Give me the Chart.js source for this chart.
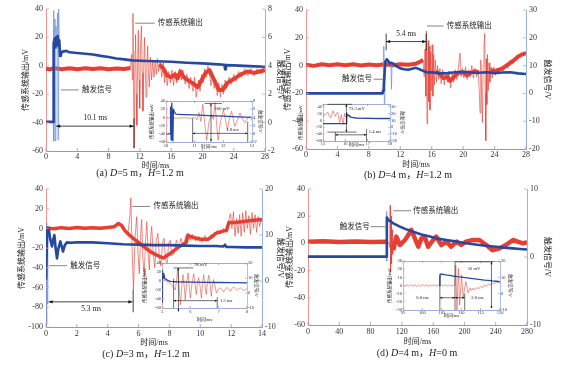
<!DOCTYPE html>
<html lang="zh">
<head>
<meta charset="utf-8">
<title>触发信号与传感系统输出</title>
<script src="https://cdn.jsdelivr.net/npm/chart.js@4.4.1/dist/chart.umd.min.js"></script>
<style>
  html, body { margin: 0; padding: 0; background: #fff; }
  #fig { position: relative; width: 564px; height: 367px; overflow: hidden; background: #fff; }
  #fig canvas { position: absolute; }
  .cap { position: absolute; font: 10px 'Liberation Serif', 'Noto Sans CJK SC', serif; color: #222;
         white-space: nowrap; line-height: 10px; transform: translateX(-50%); }
</style>
</head>
<body>
<div id="fig">
  <canvas id="pa"></canvas>
  <canvas id="pb"></canvas>
  <canvas id="pc"></canvas>
  <canvas id="pd"></canvas>
  <canvas id="ia"></canvas>
  <canvas id="ib"></canvas>
  <canvas id="ic"></canvas>
  <canvas id="idd"></canvas>
  <div class="cap" style="left:140px;top:168px">(a) <i>D</i>=5 m，<i>H</i>=1.2 m</div>
  <div class="cap" style="left:408px;top:170px">(b) <i>D</i>=4 m，<i>H</i>=1.2 m</div>
  <div class="cap" style="left:146px;top:349px">(c) <i>D</i>=3 m，<i>H</i>=1.2 m</div>
  <div class="cap" style="left:417px;top:348px">(d) <i>D</i>=4 m，<i>H</i>=0 m</div>
</div>
<script>
// ---- (a) D=5 m, H=1.2 m ----
const aTicksT = [0, 4, 8, 12, 16, 20, 24, 28];
const aTicksOut = [-60, -40, -20, 0, 20, 40];
const aTicksTrig = [-2, 0, 2, 4, 6, 8];
const aTrig = [[0,0.05],[0.9,0.05],[0.95,2],[1.0,5.6],[1.1,5.9],[1.2,5.3],[1.3,6],[1.4,5.5],[1.5,6.1],[1.6,5.4],[1.7,5.8],[1.8,4.7],[1.9,4.8],[2.1,5.0],[2.6,5.05],[3,4.95],[4,4.9],[5,4.85],[6,4.8],[7,4.7],[8,4.62],[9,4.52],[10,4.45],[11,4.38],[12,4.36],[13,4.34],[14,4.32],[16,4.28],[18,4.22],[20,4.17],[22,4.1],[22.8,4.07],[22.9,3.75],[23.0,4.05],[24,4.03],[26,3.98],[28,3.93]];
const aTrigSpike = [[0.93,0.05],[0.97,7.9],[1.01,-1.3],[1.06,6.5],[1.14,7.3],[1.19,-1.3],[1.27,6.8],[1.36,5.2],[1.48,7.7],[1.54,-1.2],[1.62,8],[1.7,5.2]];
const aOutBand = [[0,-2],[0.5,-2.6],[1,-1.6],[2,-2.4],[3,-1.8],[4,-2.5],[5,-1.7],[6,-2.3],[7,-1.8],[8,-2.4],[9,-1.9],[10,-2.2],[10.8,-1.5],[10.9,null],[14.4,null],[14.5,1],[15,-2],[15.5,-7],[16,-8],[16.5,-6],[16.8,-9],[17.2,-4],[17.6,-8],[18.1,-10],[18.7,-12],[19.4,-15],[19.8,-11],[20.4,-5],[20.9,-3],[21.5,-10],[22.1,-17],[22.6,-17],[23.2,-12],[24.1,-9],[24.9,-6],[25.8,-4],[26.6,-5],[27.3,-4],[28,-3]];
const aOutOsc = [[10.8,-1],[10.95,8],[11.05,-10],[11.12,37],[11.2,-25],[11.28,-58],[11.38,10],[11.45,22],[11.55,-20],[11.62,-42],[11.72,5],[11.8,25],[11.9,-10],[11.98,-30],[12.08,12],[12.2,28],[12.3,-5],[12.4,-32],[12.5,0],[12.6,20],[12.7,-5],[12.8,-22],[12.9,2],[13.0,14],[13.1,-5],[13.2,-15],[13.35,6],[13.5,-10],[13.65,4],[13.8,-8],[13.95,3],[14.1,-6],[14.25,5],[14.4,-4],[14.6,3],[14.8,-8],[15.0,2],[15.15,-12],[15.3,-2],[15.5,-14],[15.7,-4],[15.9,-12],[16.1,-3],[16.3,-14],[16.5,-4],[16.7,-12],[16.9,-5],[17.1,-2],[17.3,-10],[17.5,-3],[17.8,-13],[18.0,-6],[18.3,-16],[18.5,-8],[18.8,-18],[19.0,-8],[19.2,-22],[19.5,-10],[19.7,-18],[19.9,-6],[20.1,-12],[20.3,-2],[20.5,-8],[20.7,0],[20.9,-6],[21.1,-14],[21.3,-6],[21.5,-16],[21.7,-10],[21.9,-21],[22.1,-12],[22.3,-22],[22.5,-13],[22.7,-20],[22.9,-10],[23.1,-16],[23.4,-8],[23.7,-13],[24,-6],[24.3,-11],[24.6,-4],[25,-8],[25.4,-2],[25.8,-7],[26.2,-2],[26.6,-7],[27,-2],[27.5,-6],[28,-3]];
const aInTicksT = [10, 11, 12, 13];
const aInTicksOut = [-60, -40, -20, 0, 20, 40];
const aInTicksTrig = [-2, 0, 2, 4, 6, 8];
const aInTrig = [[10,0],[10.14,0],[10.16,6.5],[10.18,-1.5],[10.2,7.5],[10.22,5],[10.24,-1.7],[10.26,6],[10.3,5.2],[10.35,4.8],[10.6,4.7],[11,4.6],[11.5,4.45],[12,4.3],[12.5,4.15],[13,4.0]];
const aInOut = [[10,-1],[10.3,-2],[10.6,-1],[10.9,-2],[11.0,0],[11.08,-6],[11.15,12],[11.22,-10],[11.28,32],[11.36,-20],[11.42,-56],[11.5,-10],[11.59,7],[11.65,-5],[11.71,36],[11.77,-20],[11.82,-56],[11.9,-10],[12.0,19],[12.07,-5],[12.14,-31],[12.22,0],[12.29,15],[12.35,-5],[12.4,-22],[12.5,-5],[12.58,11],[12.66,-3],[12.75,-13],[12.85,-2],[12.93,2],[13,-8]];

// ---- (b) D=4 m, H=1.2 m ----
const bTicksT = [0, 4, 8, 12, 16, 20, 24, 28];
const bTicksOut = [-60, -40, -20, 0, 20, 40];
const bTicksTrig = [-20, -10, 0, 10, 20, 30];
const bTrig = [[0,0],[9.75,0],[9.8,1],[9.9,3],[10.1,11.5],[10.3,12.3],[10.5,11.5],[10.7,10.8],[10.9,11],[11.2,10.5],[11.6,9.6],[12,9],[12.5,8.7],[13,8.5],[13.5,8.9],[14,9.2],[14.5,8.6],[15,8],[15.5,7.5],[16,7.6],[17,7.2],[18,7.3],[19,7.6],[20,7.8],[21,7.5],[22,7.4],[23,7.6],[24,7.3],[25,7.5],[26,7.6],[27,7.2],[28,7]];
const bTrigSpike = [[9.8,0],[9.9,17],[10.0,-12.5],[10.08,11.5],[10.8,11],[10.88,1.5],[10.95,11]];
const bOutBand = [[0,0.6],[1,-0.2],[2,1.0],[3,0.2],[4,0.9],[5,0.3],[6,1.0],[7,0.1],[8,0.8],[9,0.3],[10,1.0],[11,0.3],[12,1.0],[13,0.6],[14,1.4],[14.5,2.8],[14.9,4],[15.0,null],[16.4,null],[16.5,-4],[17,-6],[17.5,-9],[18,-8],[18.3,-11],[18.7,-9],[19,-7],[19.5,-5],[20,-5],[20.5,-7],[21,-5],[21.5,-4],[22,-5],[22.3,null],[23.4,null],[23.5,-3],[24,-4],[24.5,-3],[25,-2],[25.5,0],[26,2],[26.5,4],[27,6.5],[27.5,8],[28,9]];
const bOutOsc = [[14.9,3],[15.05,-8],[15.15,12],[15.25,-22],[15.32,25],[15.4,-42],[15.48,8],[15.55,18],[15.62,-26],[15.7,14],[15.78,-32],[15.86,10],[15.95,-18],[16.05,15],[16.15,-22],[16.25,8],[16.35,-14],[16.45,4],[16.6,-12],[16.75,0],[16.9,-10],[17.05,-2],[17.2,-13],[17.4,-3],[17.6,-14],[17.8,-5],[18.0,-12],[18.2,-4],[18.4,-16],[18.6,-6],[18.8,-12],[19.0,-3],[19.2,-10],[19.4,-1],[19.6,9],[19.75,-8],[19.9,-2],[20.1,-9],[20.3,-1],[20.5,-10],[20.7,-3],[20.9,-8],[21.1,0],[21.3,-9],[21.5,-2],[21.7,-8],[21.9,-3],[22.05,-18],[22.15,-34],[22.25,4],[22.35,-20],[22.45,-41],[22.55,0],[22.65,14],[22.75,23],[22.82,-20],[22.88,-54],[22.95,5],[23.02,-28],[23.1,8],[23.2,-18],[23.3,2],[23.4,-12],[23.55,-1],[23.7,-9],[23.9,-1],[24.1,-7],[24.3,-2],[24.5,-6],[24.8,-1],[25.1,-4],[25.4,1],[25.7,-2],[26,4],[26.3,1],[26.6,6],[27,5],[27.4,9],[27.7,7],[28,10]];
const bInTicksT = [15, 16, 17, 18];
const bInTicksOut = [-60, -40, -20, 0, 20, 40];
const bInTicksTrig = [-20, -10, 0, 10, 20, 30];
const bInTrig = [[15,5.5],[16.03,5.5],[16.06,21],[16.1,17],[16.15,18],[16.25,15],[16.5,13.5],[17,13],[17.5,12.8],[18,12.8]];
const bInOut = [[15,15],[15.07,15],[15.15,20],[15.22,24],[15.28,12],[15.35,7],[15.4,20],[15.45,28],[15.5,18],[15.55,12],[15.6,20],[15.65,24],[15.7,8],[15.75,-6],[15.82,17],[15.9,-11],[15.97,21],[16.02,10],[16.05,7],[16.1,12],[16.2,9],[16.4,8],[16.6,7.5],[16.8,6.5],[17,7],[17.3,6.5],[17.6,7.2],[18,7]];

// ---- (c) D=3 m, H=1.2 m ----
const cTicksT = [0, 2, 4, 6, 8, 10, 12, 14];
const cTicksOut = [-100, -80, -60, -40, -20, 0, 20, 40];
const cTicksTrig = [-10, 0, 10, 20];
const cTrig = [[0,0.3],[0.03,0.3],[0.08,11.5],[0.17,11.5],[0.28,9],[0.39,7.5],[0.47,9],[0.54,10],[0.63,7],[0.71,4.9],[0.8,7],[0.93,8.6],[1.02,7.5],[1.1,6.4],[1.22,7.8],[1.36,8.4],[1.6,8.3],[2,8.4],[3,8.4],[4,8.2],[5,8.0],[6,7.9],[7,7.8],[8,7.8],[9,7.7],[10,7.6],[11,7.6],[11.5,7.5],[11.6,7.9],[11.7,7.4],[12,7.4],[13,7.3],[14,7.3]];
const cTrigSpike = [[0.02,0.3],[0.04,-9.5],[0.06,12.6],[0.09,-5],[0.12,11.5]];
const cOutBand = [[0,0.5],[0.5,-0.4],[1,0.8],[1.5,0],[2,0.9],[2.5,0.1],[3,0.8],[3.5,0.2],[4,1],[4.4,1.6],[4.7,5],[4.9,3],[5.1,-2],[5.35,-6],[5.8,-12],[6.3,-18],[6.8,-24],[7.3,-28],[7.6,-30],[8,-26],[8.5,-20],[9.1,-14],[9.2,-7],[9.5,-9],[10,-11],[10.5,-11],[10.8,-8],[11,-5],[11.4,-3],[11.7,-2],[11.85,6],[12.3,6],[12.8,7],[13.3,8],[14,9]];
const cOutOsc = [[5.3,-6],[5.42,10],[5.5,31],[5.58,-20],[5.67,-62],[5.77,-10],[5.88,12],[5.96,-25],[6.05,-46],[6.12,-10],[6.2,9],[6.28,-30],[6.36,-49],[6.45,-15],[6.53,7],[6.62,-25],[6.7,-42],[6.78,-10],[6.85,2],[6.95,-25],[7.05,-40],[7.15,-12],[7.25,-5],[7.35,-30],[7.45,-38],[7.55,-15],[7.65,-10],[7.75,-32],[7.85,-35],[7.95,-15],[8.05,-12],[8.15,-28],[8.3,-26],[8.45,-12],[8.6,-20],[8.75,-10],[8.9,-18],[9.05,-8],[9.2,-5],[9.35,-12],[9.5,-6],[9.7,-13],[9.9,-8],[10.1,-14],[10.3,-7],[10.5,-13],[10.7,-6],[10.9,-8],[11.1,-2],[11.3,-6],[11.5,0],[11.7,-4],[11.85,8],[11.95,15],[12.05,0],[12.15,17],[12.25,-8],[12.35,10],[12.45,-5],[12.55,14],[12.65,-8],[12.75,16],[12.85,-4],[12.95,18],[13.05,0],[13.15,13],[13.25,-6],[13.35,16],[13.45,0],[13.55,14],[13.65,-4],[13.75,12],[13.85,2],[13.95,10],[14,6]];
const cInTicksT = [5, 6, 7, 8];
const cInTicksOut = [-60, -40, -20, 0, 20, 40];
const cInTicksTrig = [-10, 0, 10, 20];
const cInTrig = [[5,12],[5.01,-6],[5.02,15],[5.04,10],[5.06,13],[5.1,9.6],[5.2,8.4],[5.3,7.8],[5.5,7.5],[6,7.3],[6.5,7.1],[7,7],[7.5,6.9],[8,6.8]];
const cInOut = [[5,3],[5.1,1],[5.18,-2],[5.28,-4],[5.35,-10],[5.41,-15],[5.47,-20],[5.52,5],[5.55,29],[5.6,-10],[5.65,-53],[5.7,-10],[5.74,14],[5.78,-10],[5.82,-42],[5.87,-5],[5.92,18],[5.96,-10],[6.0,-38],[6.06,-5],[6.12,16],[6.16,-5],[6.21,-30],[6.25,-5],[6.29,7],[6.34,-10],[6.39,-38],[6.43,-5],[6.47,14],[6.52,-10],[6.56,-30],[6.6,-5],[6.65,13],[6.7,-10],[6.74,-34],[6.78,-10],[6.82,3],[6.87,-10],[6.92,-27],[7.0,-18],[7.06,-15],[7.12,-20],[7.18,-24],[7.24,-18],[7.29,-14],[7.35,-18],[7.41,-23],[7.47,-17],[7.53,-13],[7.59,-17],[7.65,-21],[7.7,-18],[7.76,-15],[7.82,-18],[7.88,-21],[7.94,-19],[8,-17]];

// ---- (d) D=4 m, H=0 m ----
const dTicksT = [0, 40, 80, 120, 160, 200, 240, 280];
const dTicksOut = [-60, -40, -20, 0, 20, 40];
const dTicksTrig = [-10, 0, 10];
const dTrig = [[0,0.05],[100,0.05],[100.6,3],[101,5.8],[102,5.6],[103,5.4],[105,5.3],[109,4.95],[117.5,4.46],[125,4.1],[134.5,3.7],[145,3.3],[156,3],[166,2.7],[177,2.5],[188,2.3],[198,2.1],[209,1.9],[219,1.76],[230,1.62],[240.6,1.5],[251,1.38],[262,1.27],[271,1.18],[280,1.1]];
const dTrigSpike = [[100.2,0.05],[100.5,6.7],[100.8,-0.6],[101.2,6]];
const dOutBand = [[0,1.2],[20,1.5],[40,1],[60,1.4],[80,1.1],[100,1.3],[102,null],[108,null],[109,-5],[113,5],[117.5,-1.2],[124,2.5],[128,6],[132,10],[136.6,3.7],[141,-2.4],[145,3.7],[149,5],[153.6,-2.4],[160,2.5],[164,5],[170.5,-1.2],[177,1.3],[183,-2.4],[190,1.3],[196,-1.2],[202,1.3],[211,2.5],[219,2.5],[228,-1.2],[236,-5],[245,-3.6],[253,-1.2],[262,2.5],[268,1.3],[275,0],[280,1]];
const dOutOsc = [[100.5,1],[103,1],[104.5,-3],[105,28],[105.6,-21],[106.2,20],[106.8,-15],[107.5,10],[108.2,-8],[109,-5]];
const dInTicksT = [95, 100, 105, 110, 115, 120];
const dInTicksOut = [-30, -20, -10, 0, 10, 20, 30];
const dInTicksTrig = [-10, 0, 10, 20];
const dInTrig = [[104.5,4.9],[104.55,12],[105,11.9],[106,11.5],[107,11.2],[108,10.8],[109,10.4],[110,10.1],[111,9.8],[112,9.5],[113,9.2],[114,8.9],[115,8.6],[116,8.3],[117,8.1],[118,7.8],[119,7.6],[120,7.4]];
const dInOut = [[95,0.8],[95.5,-1.1],[96,0.6],[96.5,-0.8],[97,1.2],[97.5,-0.7],[98,0.9],[98.5,-1.2],[99,0.5],[99.5,-0.9],[100,1.1],[100.5,-0.6],[101,0.8],[101.5,-1],[102,0.7],[102.5,-0.8],[103,1.2],[103.5,-0.9],[104,0.6],[104.5,-1.1],[105,0.9],[105.5,-0.7],[106,1],[106.5,-0.9],[107,0.7],[107.5,-1],[108,0.8],[108.4,0],[108.6,25],[108.9,-30],[109.3,21],[109.6,-24],[110.1,13],[110.5,-15],[111.2,5],[111.8,-9],[112.3,-3],[112.7,-6],[113.1,-3],[113.5,-5.5],[114,-2.5],[114.5,-4],[115,-1],[115.5,-3],[116,0.5],[116.5,-1],[117,2],[117.5,0.8],[118,3],[118.5,2],[119,4],[119.5,3],[120,5]];

// Annotations (time, mV)
const aNotes = [
    {k:'lead', p:[[11.4,30],[13.9,30]]}, {k:'text', p:[14.3,30], s:'传感系统输出'},
    {k:'lead', p:[[1.9,-17],[4.2,-17]]}, {k:'text', p:[4.6,-17], s:'触发信号'},
    {k:'arrow', p:[[1.3,-42.5],[11.2,-42.5]]}, {k:'line', p:[[11.25,-37],[11.25,-58]]},
    {k:'text', p:[6.3,-36.5], s:'10.1 ms', a:'center'}
];
const bNotes = [
    {k:'lead', p:[[15.4,28.5],[17.5,28.5]]}, {k:'text', p:[17.9,28.5], s:'传感系统输出'},
    {k:'lead', p:[[8.6,-9.8],[9.9,-9.8]]}, {k:'text', p:[8.4,-9.8], s:'触发信号', a:'right'},
    {k:'arrow', p:[[10.2,17.3],[15.3,17.3]]}, {k:'line', p:[[10.2,23],[10.2,11]]}, {k:'line', p:[[15.3,23],[15.3,11]]},
    {k:'text', p:[12.75,22.5], s:'5.4 ms', a:'center'}
];
const cNotes = [
    {k:'lead', p:[[5.6,22.3],[6.75,22.3]]}, {k:'text', p:[6.96,22.3], s:'传感系统输出'},
    {k:'lead', p:[[0.2,-37.8],[1.36,-37.8]]}, {k:'text', p:[1.57,-37.8], s:'触发信号'},
    {k:'arrow', p:[[0.17,-74.5],[5.6,-74.5]]}, {k:'line', p:[[5.65,-62],[5.65,-85]]},
    {k:'text', p:[2.93,-81.5], s:'5.3 ms', a:'center'}
];
const dNotes = [
    {k:'lead', p:[[109,24],[132,24]]}, {k:'text', p:[134.5,24], s:'传感系统输出'},
    {k:'lead', p:[[80,12.3],[98.5,12.3]]}, {k:'text', p:[79,12.3], s:'触发信号', a:'right'}
];
const aInNotes = [
    {k:'line', p:[[11.35,34],[11.95,34]]}, {k:'arrow', p:[[11.57,34],[11.57,-59]]}, {k:'text', p:[11.7,20], s:'100 mV'},
    {k:'line', p:[[10.93,-2],[10.93,-60]]}, {k:'line', p:[[12.85,-10],[12.85,-60]]},
    {k:'arrow', p:[[10.93,-39],[12.85,-39]]}, {k:'text', p:[12.1,-29], s:'1.8 ms'}
];
const bInNotes = [
    {k:'line', p:[[15.2,47],[16.3,47]]}, {k:'line', p:[[15.2,-34],[16.5,-34]]}, {k:'arrow', p:[[16.05,47],[16.05,-34]]},
    {k:'text', p:[16.15,34], s:'73.3 mV'},
    {k:'arrow', p:[[15.55,-42],[16.95,-42]]}, {k:'line', p:[[16.95,-25],[16.95,-60]]}, {k:'line', p:[[15.55,-34],[15.55,-60]]},
    {k:'text', p:[17.05,-32], s:'1.4 ms'}
];
const cInNotes = [
    {k:'line', p:[[5.41,29],[6.1,29]]}, {k:'arrow', p:[[5.58,29],[5.58,-68]]}, {k:'text', p:[6.15,36], s:'96 mV'},
    {k:'line', p:[[5.41,5],[5.41,-60]]}, {k:'line', p:[[6.95,-36],[6.95,-60]]},
    {k:'arrow', p:[[5.41,-43.7],[6.95,-43.7]]}, {k:'text', p:[7.05,-43.7], s:'1.5 ms'}
];
const dInNotes = [
    {k:'line', p:[[108.4,29],[118.3,29]]}, {k:'arrow', p:[[117.8,29],[117.8,-28]]}, {k:'text', p:[113.3,20], s:'56 mV', a:'center'},
    {k:'line', p:[[104.5,12],[104.5,-30]]}, {k:'line', p:[[108.4,29],[108.4,-30]]}, {k:'line', p:[[110.9,-10],[110.9,-30]]},
    {k:'arrow', p:[[104.5,-15],[108.4,-15]]}, {k:'arrow', p:[[108.4,-15],[110.9,-15]]},
    {k:'text', p:[100,-15], s:'6.0 ms', a:'center'}, {k:'text', p:[112.6,-15], s:'2.0 ms'}
];

// Colors
const FAM = "'Liberation Serif', 'Noto Sans CJK SC', serif";
const RED = 'rgb(230,62,50)';
const RED_THIN = 'rgba(228,66,56,0.8)';
const BLUE = 'rgb(38,72,160)';
const BLUE_THIN = 'rgba(105,145,215,0.9)';
const AXIS_L = 'rgb(240,150,150)';
const AXIS_R = 'rgb(150,180,228)';
const AXIS_X = 'rgb(135,155,200)';

function pts(a) { return a.map(p => ({ x: p[0], y: p[1] })); }

function series(data, axis, color, width, join) {
    return { data: pts(data), yAxisID: axis, borderColor: color, borderWidth: width,
             pointRadius: 0, tension: 0, fill: false, spanGaps: false, borderJoinStyle: join || 'bevel' };
}

function head(ctx, x, y, fx, fy, s) {
    const ang = Math.atan2(y - fy, x - fx);
    const c = Math.cos(ang), n = Math.sin(ang);
    ctx.beginPath();
    ctx.moveTo(x, y);
    ctx.lineTo(x - s * c + s * 0.4 * n, y - s * n - s * 0.4 * c);
    ctx.lineTo(x - s * c - s * 0.4 * n, y - s * n + s * 0.4 * c);
    ctx.closePath();
    ctx.fill();
}

// white plot area for insets, inward tick marks
const boxPlugin = {
    id: 'box',
    beforeDraw(chart, args, o) {
        if (!o.white) return;
        const a = chart.chartArea, ctx = chart.ctx;
        ctx.save();
        ctx.fillStyle = '#fff';
        ctx.fillRect(a.left, a.top, a.right - a.left, a.bottom - a.top);
        ctx.restore();
    },
    afterDatasetsDraw(chart, args, o) {
        const { ctx, chartArea: a, scales } = chart;
        const n = o.len;
        ctx.save();
        ctx.lineWidth = 0.8;
        const mark = (id, color, fn) => {
            ctx.strokeStyle = color;
            ctx.beginPath();
            scales[id].ticks.forEach(t => fn(scales[id].getPixelForValue(t.value)));
            ctx.stroke();
        };
        mark('x', AXIS_X, p => {
            ctx.moveTo(p, a.bottom); ctx.lineTo(p, a.bottom - n);
            if (o.top) { ctx.moveTo(p, a.top); ctx.lineTo(p, a.top + n); }
        });
        mark('yL', AXIS_L, p => { ctx.moveTo(a.left, p); ctx.lineTo(a.left + n, p); });
        mark('yR', AXIS_R, p => { ctx.moveTo(a.right, p); ctx.lineTo(a.right - n, p); });
        if (o.top) {
            ctx.strokeStyle = AXIS_X;
            ctx.beginPath(); ctx.moveTo(a.left, a.top + 0.5); ctx.lineTo(a.right, a.top + 0.5); ctx.stroke();
        }
        ctx.restore();
    }
};

// leader lines, dimension arrows and labels
const notePlugin = {
    id: 'notes',
    afterDatasetsDraw(chart, args, o) {
        const { ctx, scales } = chart;
        const X = v => scales.x.getPixelForValue(v);
        const Y = v => scales.yL.getPixelForValue(v);
        ctx.save();
        ctx.lineWidth = o.lw;
        (o.items || []).forEach(it => {
            if (it.k === 'text') {
                ctx.fillStyle = '#222';
                ctx.font = o.fs + 'px ' + FAM;
                ctx.textAlign = it.a || 'left';
                ctx.textBaseline = 'middle';
                ctx.fillText(it.s, X(it.p[0]), Y(it.p[1]));
                return;
            }
            const [p, q] = it.p;
            const x1 = X(p[0]), y1 = Y(p[1]), x2 = X(q[0]), y2 = Y(q[1]);
            ctx.strokeStyle = it.k === 'lead' ? '#666' : '#111';
            ctx.beginPath(); ctx.moveTo(x1, y1); ctx.lineTo(x2, y2); ctx.stroke();
            if (it.k === 'arrow') {
                ctx.fillStyle = '#111';
                head(ctx, x2, y2, x1, y1, o.hs);
                head(ctx, x1, y1, x2, y2, o.hs);
            }
        });
        ctx.restore();
    }
};

// g: canvas box + plot rect (canvas coords) + font sizes, d: data
function plot(id, g, d) {
    const cv = document.getElementById(id);
    cv.width = g.w; cv.height = g.h;
    cv.style.left = g.x + 'px'; cv.style.top = g.y + 'px';
    const tf = { size: g.fs, family: FAM };
    const hf = { size: g.ts, family: FAM };
    const fixed = vals => s => { s.ticks = vals.map(v => ({ value: v })); };
    const yAxis = (pos, range, vals, label, color, width, tp) => ({
        type: 'linear', position: pos, min: range[0], max: range[1],
        afterBuildTicks: fixed(vals),
        afterFit: s => { s.width = width; },
        grid: { display: false, drawTicks: false },
        border: { color: color, width: g.bw },
        ticks: { font: tf, color: '#333', padding: g.yp, autoSkip: false },
        title: { display: true, text: label, font: hf, color: '#222', padding: { top: tp, bottom: 0 } }
    });
    const sets = [
        series(d.trig, 'yR', BLUE, g.bwBlue, 'round'),
        series(d.spike || [], 'yR', BLUE_THIN, g.thin),
        series(d.band || [], 'yL', RED, g.bwBand, 'round'),
        series(d.osc, 'yL', RED_THIN, g.thin)
    ];
    new Chart(cv, {
        type: 'line',
        data: { datasets: sets },
        options: {
            responsive: false, animation: false, devicePixelRatio: 1,
            layout: { padding: { left: g.L, right: g.R, top: g.t, bottom: g.h - g.b - g.xh } },
            plugins: {
                legend: { display: false }, tooltip: { enabled: false },
                box: { white: g.white, top: g.white, len: g.tick },
                notes: { items: d.notes, fs: g.nf, lw: g.nlw, hs: g.hs }
            },
            scales: {
                x: {
                    type: 'linear', min: d.xr[0], max: d.xr[1],
                    afterBuildTicks: fixed(d.xt),
                    afterFit: s => { s.height = g.xh; },
                    grid: { display: false, drawTicks: false },
                    border: { color: AXIS_X, width: g.bw },
                    ticks: { font: tf, color: '#333', padding: g.xp, autoSkip: false, maxRotation: 0 },
                    title: { display: true, text: '时间/ms', font: hf, color: '#222', padding: { top: 0, bottom: 0 } }
                },
                yL: yAxis('left', d.yl, d.ylt, '传感系统输出/mV', AXIS_L, g.l - g.L, g.tpL),
                yR: yAxis('right', d.yr, d.yrt, '触发信号/V', AXIS_R, g.w - g.R - g.r, g.tpR)
            }
        },
        plugins: [boxPlugin, notePlugin]
    });
}

const mainStyle = { fs: 8, ts: 8, nf: 7.5, nlw: 0.8, hs: 4, bw: 1, thin: 0.8, bwBlue: 2.6, tick: 3, yp: 3, white: false };
const insetStyle = { fs: 4.5, ts: 4.5, nf: 4.6, nlw: 0.6, hs: 2.4, bw: 0.8, thin: 0.7, bwBlue: 1.3, bwBand: 1, tick: 2, yp: 1, white: true };

plot('pa', Object.assign({}, mainStyle, { x: 0, y: 0, w: 295, h: 183, l: 46, r: 265, t: 9, b: 151, L: 17, R: 6, tpL: 4, tpR: 4, xh: 20, xp: 1, bwBand: 4 }),
    { trig: aTrig, spike: aTrigSpike, band: aOutBand, osc: aOutOsc, notes: aNotes,
      xr: [0, 28], xt: aTicksT, yl: [-60, 40], ylt: aTicksOut, yr: [-2, 8], yrt: aTicksTrig });
plot('pb', Object.assign({}, mainStyle, { x: 280, y: 0, w: 284, h: 183, l: 26, r: 246, t: 10, b: 149, L: 1, R: 8, tpL: 2, tpR: 4, xh: 21, xp: 1, bwBand: 4 }),
    { trig: bTrig, spike: bTrigSpike, band: bOutBand, osc: bOutOsc, notes: bNotes,
      xr: [0, 28], xt: bTicksT, yl: [-60, 40], ylt: bTicksOut, yr: [-20, 30], yrt: bTicksTrig });
plot('pc', Object.assign({}, mainStyle, { x: 0, y: 180, w: 295, h: 187, l: 46, r: 262, t: 9, b: 147, L: 13, R: 6, tpL: 4, tpR: 4, xh: 21, xp: 2.5, bwBand: 3.5 }),
    { trig: cTrig, spike: cTrigSpike, band: cOutBand, osc: cOutOsc, notes: cNotes,
      xr: [0, 14], xt: cTicksT, yl: [-100, 40], ylt: cTicksOut, yr: [-10, 20], yrt: cTicksTrig });
plot('pd', Object.assign({}, mainStyle, { x: 280, y: 180, w: 284, h: 187, l: 28, r: 247, t: 9, b: 145, L: 1, R: 8, tpL: 4, tpR: 4, xh: 21.5, xp: 2, bwBand: 4.5 }),
    { trig: dTrig, spike: dTrigSpike, band: dOutBand, osc: dOutOsc, notes: dNotes,
      xr: [0, 280], xt: dTicksT, yl: [-60, 40], ylt: dTicksOut, yr: [-10, 10], yrt: dTicksTrig });

plot('ia', Object.assign({}, insetStyle, { x: 146, y: 96, w: 118, h: 54, l: 20, r: 106, t: 5, b: 46, L: 2, R: 0, tpL: 1, tpR: 1, xh: 7.4, xp: 1.3 }),
    { trig: aInTrig, osc: aInOut, notes: aInNotes,
      xr: [10, 13], xt: aInTicksT, yl: [-60, 40], ylt: aInTicksOut, yr: [-2, 8], yrt: aInTicksTrig });
plot('ib', Object.assign({}, insetStyle, { x: 297, y: 97, w: 111, h: 51, l: 26, r: 93, t: 7, b: 44, L: 0, R: 2, tpL: 1, tpR: 1, xh: 6.2, xp: 0.3 }),
    { trig: bInTrig, osc: bInOut, notes: bInNotes,
      xr: [15, 18], xt: bInTicksT, yl: [-60, 48], ylt: bInTicksOut, yr: [-20, 34], yrt: bInTicksTrig });
plot('ic', Object.assign({}, insetStyle, { x: 140, y: 256, w: 121, h: 68, l: 22, r: 107, t: 7, b: 52, L: 1, R: 1, tpL: 1, tpR: 1, xh: 14.7, xp: 1.3 }),
    { trig: cInTrig, osc: cInOut, notes: cInNotes,
      xr: [5, 8], xt: cInTicksT, yl: [-60, 40], ylt: cInTicksOut, yr: [-10, 20], yrt: cInTicksTrig });
plot('idd', Object.assign({}, insetStyle, { x: 385, y: 254, w: 130, h: 66, l: 18, r: 115, t: 7, b: 56, L: 1, R: 1, tpL: 1, tpR: 1, xh: 8.7, xp: 0 }),
    { trig: dInTrig, osc: dInOut, notes: dInNotes,
      xr: [95, 120], xt: dInTicksT, yl: [-30, 30], ylt: dInTicksOut, yr: [-10, 20], yrt: dInTicksTrig });
</script>
</body>
</html>
